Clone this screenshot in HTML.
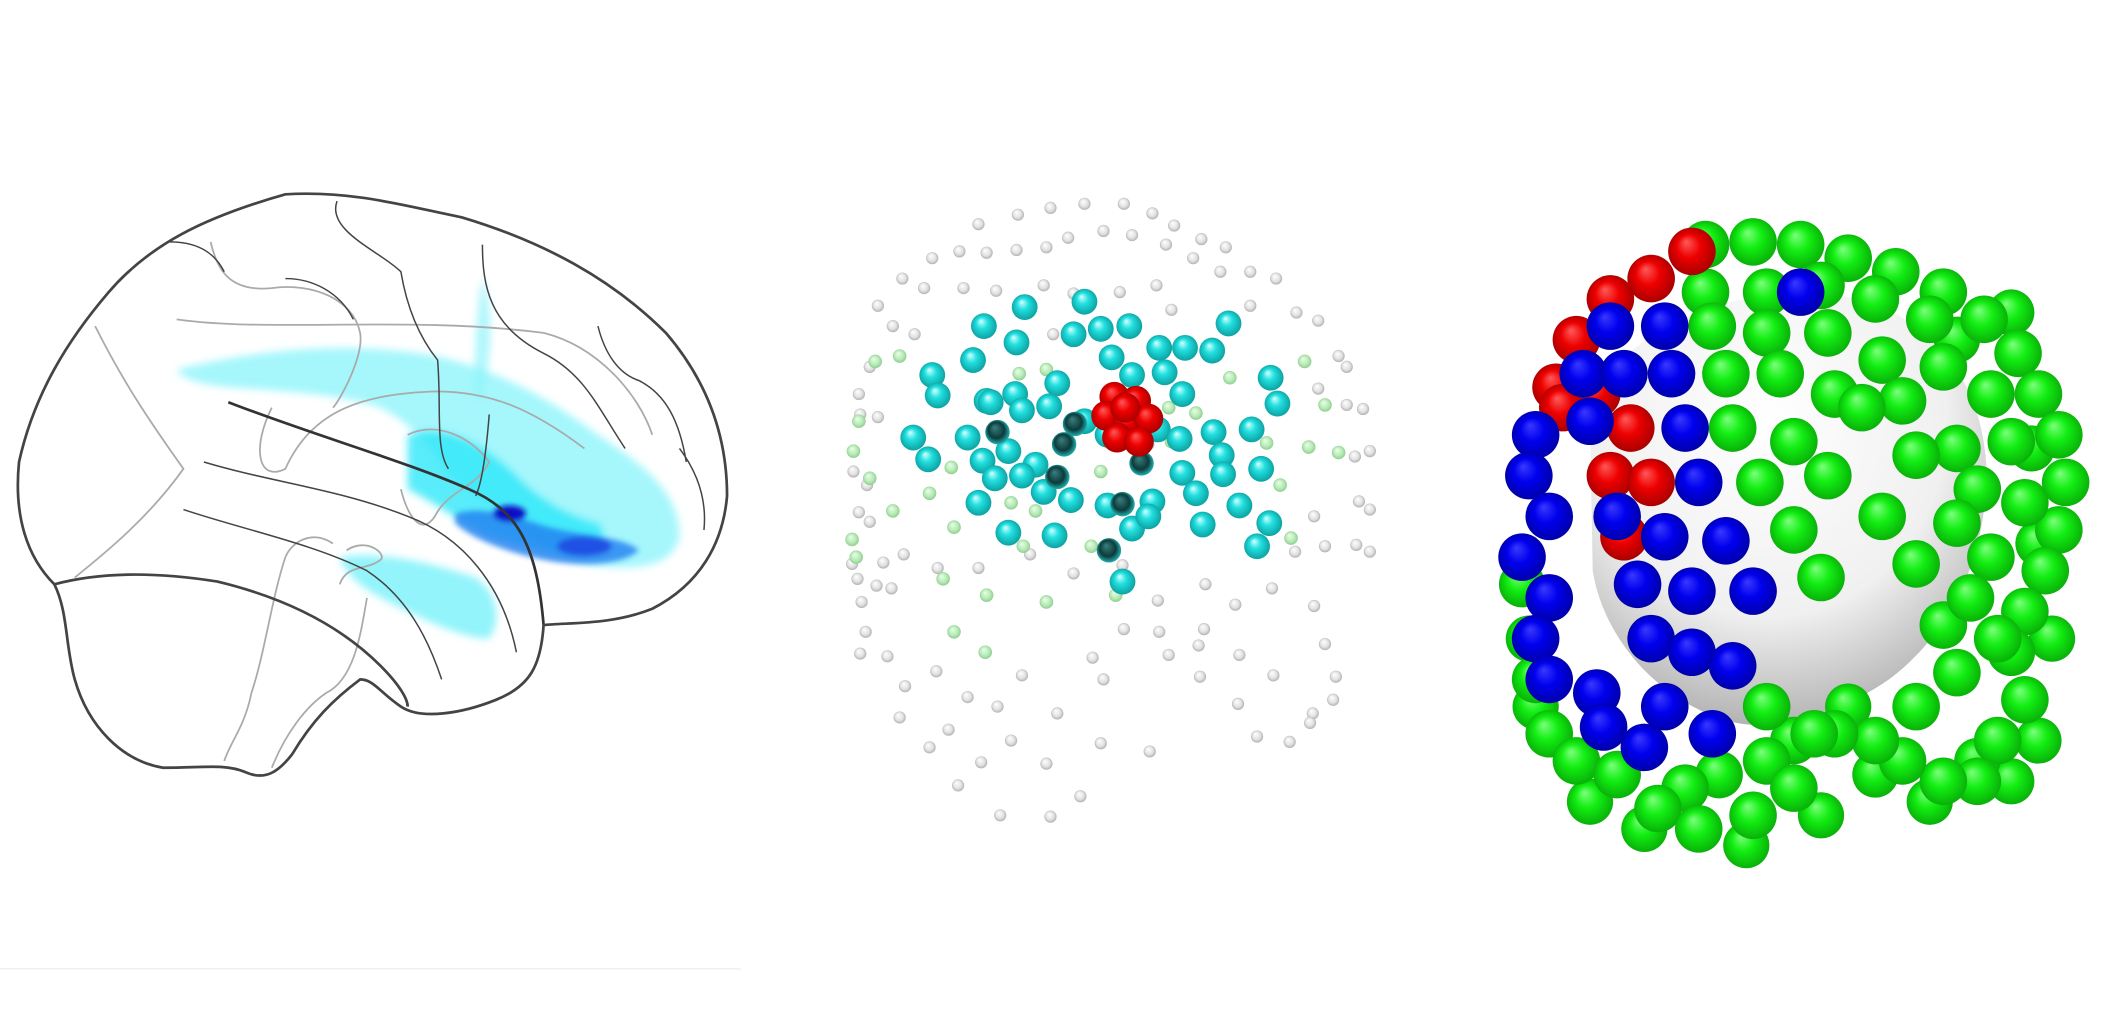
<!DOCTYPE html>
<html><head><meta charset="utf-8"><style>
html,body{margin:0;padding:0;background:#fff;width:2120px;height:1030px;overflow:hidden}
svg{display:block}
</style></head><body>
<svg id="fig" width="2120" height="1030" viewBox="0 0 1560 758" preserveAspectRatio="none" xmlns="http://www.w3.org/2000/svg">
<defs>
<radialGradient id="gGreen" cx="0.5" cy="0.5" r="0.55" fx="0.38" fy="0.3"><stop offset="0" stop-color="#7dff7d"/><stop offset="0.45" stop-color="#12ee12"/><stop offset="1" stop-color="#08a808"/></radialGradient>
<radialGradient id="gBlue" cx="0.5" cy="0.5" r="0.55" fx="0.38" fy="0.3"><stop offset="0" stop-color="#3a3aff"/><stop offset="0.45" stop-color="#0000ee"/><stop offset="1" stop-color="#0000a0"/></radialGradient>
<radialGradient id="gRed" cx="0.5" cy="0.5" r="0.55" fx="0.38" fy="0.3"><stop offset="0" stop-color="#ff5a5a"/><stop offset="0.45" stop-color="#ee0000"/><stop offset="1" stop-color="#a00000"/></radialGradient>
<radialGradient id="gCyan" cx="0.5" cy="0.5" r="0.55" fx="0.38" fy="0.3"><stop offset="0" stop-color="#d8ffff"/><stop offset="0.4" stop-color="#22e0e0"/><stop offset="1" stop-color="#0a9a9a"/></radialGradient>
<radialGradient id="gDark" cx="0.5" cy="0.5" r="0.55" fx="0.38" fy="0.3"><stop offset="0" stop-color="#3a8080"/><stop offset="0.6" stop-color="#0d3a3a"/><stop offset="1" stop-color="#28c8c8"/></radialGradient>
<radialGradient id="gGray" cx="0.5" cy="0.5" r="0.55" fx="0.38" fy="0.3"><stop offset="0" stop-color="#ffffff"/><stop offset="0.6" stop-color="#e2e2e2"/><stop offset="1" stop-color="#a8a8a8"/></radialGradient>
<radialGradient id="gLGreen" cx="0.5" cy="0.5" r="0.55" fx="0.38" fy="0.3"><stop offset="0" stop-color="#eaffea"/><stop offset="0.6" stop-color="#b8eab8"/><stop offset="1" stop-color="#88c888"/></radialGradient>
<radialGradient id="gHead" cx="0.45" cy="0.3" r="0.75"><stop offset="0" stop-color="#ffffff"/><stop offset="0.6" stop-color="#f0f0f0"/><stop offset="1" stop-color="#a8a8a8"/></radialGradient>
<filter id="blur2"><feGaussianBlur stdDeviation="3"/></filter>
<filter id="blur1"><feGaussianBlur stdDeviation="2"/></filter>
</defs>

<g id="brain">
 <g filter="url(#blur2)">
  <path d="M130,272 C170,262 230,252 290,258 C350,262 400,290 440,320 C470,340 500,360 500,395 C495,420 460,420 430,415 C410,410 390,395 380,385 C360,370 340,360 330,350 C320,330 300,310 280,300 C250,290 210,288 170,285 C150,283 135,280 130,272 Z" fill="#7ff4fb" opacity="0.7"/>
  <path d="M300,320 C330,310 360,330 380,350 C400,370 420,380 440,385 C450,395 440,410 420,410 C400,408 380,400 360,395 C340,385 320,370 300,360 Z" fill="#22e6f8" opacity="0.75"/>
  <path d="M250,410 C280,405 320,415 350,425 C365,435 370,455 360,470 C340,470 310,455 290,445 C270,435 255,425 250,410 Z" fill="#6ff0fa" opacity="0.75"/>
  <path d="M355,205 C365,230 360,270 355,295 L348,290 C350,260 350,230 355,205 Z" fill="#8ff4fb" opacity="0.7"/>
 </g>
 <g filter="url(#blur1)">
  <path d="M335,378 C355,372 380,380 400,387 C430,395 460,395 470,405 C460,415 430,418 400,412 C370,406 345,395 335,385 Z" fill="#1e7ef0" opacity="0.8"/>
  <ellipse cx="375" cy="378" rx="12" ry="6" fill="#1010c8"/>
  <ellipse cx="430" cy="402" rx="20" ry="7" fill="#2040e0" opacity="0.8"/>
 </g>
 <g fill="none" stroke="#aaa" stroke-width="1.3">
  <path d="M70,240 C90,280 110,310 135,345 C110,380 80,405 55,425"/>
  <path d="M155,178 C160,200 170,215 200,212 C230,208 260,220 265,245 C268,262 250,295 245,300"/>
  <path d="M200,300 C185,330 190,355 210,345 C230,300 270,290 320,288 C360,288 390,300 430,330"/>
  <path d="M130,235 C200,245 300,232 400,245 C440,255 470,290 480,320"/>
  <path d="M245,400 C230,390 215,398 210,410 C200,440 195,480 185,510 C180,535 170,545 165,560"/>
  <path d="M270,440 C265,470 260,500 240,510 C225,520 210,540 200,565"/>
  <path d="M255,405 C270,395 285,408 280,412 C270,420 255,415 250,430"/>
  <path d="M300,320 C320,310 345,320 360,340 C350,360 330,360 320,380 C310,395 300,380 295,360"/>
 </g>
 <g fill="none" stroke="#444" stroke-width="1.1">
  <path d="M125,178 C150,178 160,190 165,200"/>
  <path d="M248,148 C240,170 280,185 295,200 C300,230 310,250 322,265 C325,300 320,330 330,345"/>
  <path d="M355,180 C355,210 360,240 400,260 C430,275 440,300 460,330"/>
  <path d="M440,240 C445,260 455,275 470,280 C490,290 500,310 505,340"/>
  <path d="M360,305 C358,330 355,355 350,365"/>
  <path d="M150,340 C200,355 250,360 300,380 C340,395 370,430 380,480"/>
  <path d="M135,375 C180,390 230,400 270,420 C300,440 315,470 325,500"/>
  <path d="M500,330 C515,350 520,370 518,390"/>
  <path d="M210,205 C230,205 250,215 260,235"/>
 </g>
 <path d="M168,296 C230,320 300,340 345,360 C380,375 395,400 400,460" fill="none" stroke="#333" stroke-width="2"/>
 <path d="M40,430 C20,410 10,380 14,340 C25,290 50,250 80,215 C110,180 150,160 210,143 C260,140 300,152 340,160 C400,178 450,205 490,245 C520,280 535,320 535,365 C532,400 515,430 480,448 C450,460 420,458 400,460 C398,490 390,505 365,515 C340,525 310,530 295,520 C280,510 275,500 265,500 C245,515 230,530 215,555 C205,568 195,575 180,568 C165,562 150,565 120,565 C90,560 65,535 55,500 C48,475 50,450 40,430 Z" fill="none" stroke="#444" stroke-width="2"/>
 <path d="M40,430 C70,422 110,420 160,428 C210,440 250,460 280,490 C295,505 300,515 300,520" fill="none" stroke="#444" stroke-width="2"/>
 <line x1="0" y1="713" x2="545" y2="713" stroke="#eee" stroke-width="1"/>
</g>

<g id="mid"></g>
<g id="right">
 <path d="M1170,310 C1180,250 1260,215 1330,215 C1410,218 1460,270 1462,350 C1460,420 1430,470 1390,500 C1350,528 1300,540 1270,530 C1220,515 1180,470 1172,420 Z" fill="url(#gHead)"/>
</g>
<script>
const grayPts=[[720,165],[749,158],[773,153],[798,150],[827,150],[848,157],[864,166],[884,176],[902,182],[686,190],[706,185],[726,186],[748,184],[770,182],[786,175],[812,170],[833,173],[858,180],[878,190],[898,200],[920,200],[939,205],[664,205],[680,212],[709,212],[733,214],[768,210],[790,216],[824,215],[851,210],[920,225],[954,230],[646,225],[657,240],[673,246],[775,246],[862,228],[970,236],[985,262],[991,270],[970,286],[991,298],[1003,301],[1008,332],[997,336],[640,270],[632,290],[633,305],[646,307],[628,347],[638,357],[632,377],[640,384],[627,415],[650,414],[665,408],[631,426],[645,431],[634,443],[637,465],[633,481],[653,483],[656,433],[690,418],[720,418],[758,408],[790,422],[826,416],[852,442],[887,430],[909,445],[936,433],[953,406],[975,402],[998,401],[1008,406],[1000,369],[1008,375],[967,380],[967,446],[975,474],[983,498],[981,515],[966,525],[949,546],[964,532],[937,497],[912,482],[882,475],[860,482],[886,463],[911,518],[925,542],[883,498],[666,505],[689,494],[712,513],[698,537],[734,520],[752,497],[778,525],[804,484],[827,463],[853,465],[812,500],[846,553],[810,547],[770,562],[744,545],[722,561],[705,578],[684,550],[662,528],[736,600],[773,601],[795,586],[845,327]];
const lgreenPts=[[644,266],[662,262],[632,310],[628,332],[640,352],[700,344],[627,397],[657,376],[684,363],[702,388],[744,370],[762,376],[803,402],[753,402],[630,410],[694,426],[726,438],[770,443],[821,438],[702,465],[725,480],[905,278],[960,266],[975,298],[985,333],[963,329],[942,357],[950,396],[932,326],[880,304],[862,325],[750,275],[770,272],[810,347],[860,300]];
const cyanPts=[[724,240],[754,226],[748,252],[716,265],[686,276],[690,291],[726,295],[747,290],[778,282],[798,222],[790,246],[810,242],[831,240],[818,263],[853,256],[872,256],[892,258],[904,238],[833,276],[857,274],[870,290],[935,278],[940,297],[772,299],[752,302],[712,322],[672,322],[683,338],[723,339],[742,332],[762,342],[798,310],[815,320],[852,316],[868,323],[893,318],[921,316],[899,335],[928,345],[870,348],[900,349],[752,350],[732,352],[768,362],[720,370],[788,368],[815,372],[848,369],[880,363],[912,372],[934,385],[925,402],[885,386],[833,389],[845,380],[742,392],[776,394],[826,428],[729,296]];
const darkPts=[[734,318],[791,312],[783,327],[826,371],[778,351],[840,341],[833,305],[816,405]];
const redPts=[[820,292],[836,295],[814,306],[830,310],[845,308],[822,322],[838,325],[828,300]];
const NS='http://www.w3.org/2000/svg';
function sphere(g,x,y,r,fill,name){
  const c=document.createElementNS(NS,'circle');
  c.setAttribute('cx',x);c.setAttribute('cy',y);c.setAttribute('r',r);
  c.setAttribute('fill',fill);
  
  
  g.appendChild(c);
}
const mid=document.getElementById('mid');
grayPts.forEach(p=>sphere(mid,p[0],p[1],4.5,'url(#gGray)','gray-sensor'));
lgreenPts.forEach(p=>sphere(mid,p[0],p[1],5,'url(#gLGreen)','green-sensor'));
cyanPts.forEach(p=>sphere(mid,p[0],p[1],9.5,'url(#gCyan)','cyan-sensor'));
darkPts.forEach(p=>sphere(mid,p[0],p[1],9,'url(#gDark)','dark-sensor'));
redPts.forEach(p=>sphere(mid,p[0],p[1],11,'url(#gRed)','red-sensor'));

const greenBack=[[1500,400],[1510,470],[1500,545],[1480,575],[1455,560],[1420,590],[1380,570],[1360,520],[1480,230],[1440,250],[1130,520],[1125,470],[1170,590],[1210,610],[1285,622],[1340,600],[1120,430],[1495,330]];
const greenEl=[[1255,180],[1290,178],[1325,180],[1360,190],[1395,200],[1430,215],[1460,235],[1485,260],[1500,290],[1515,320],[1520,355],[1515,390],[1505,420],[1490,450],[1480,480],[1490,515],[1470,545],[1455,575],[1430,575],[1400,560],[1380,545],[1350,540],[1320,545],[1300,560],[1265,570],[1240,580],[1220,595],[1250,610],[1290,600],[1320,580],[1130,500],[1140,540],[1160,560],[1190,570],[1410,520],[1440,495],[1470,470],[1430,460],[1255,215],[1300,215],[1340,210],[1380,220],[1420,235],[1260,240],[1300,245],[1345,245],[1385,265],[1430,270],[1465,290],[1270,275],[1310,275],[1350,290],[1400,295],[1440,330],[1480,325],[1275,315],[1320,325],[1370,300],[1410,335],[1455,360],[1490,370],[1295,355],[1345,350],[1385,380],[1440,385],[1465,410],[1320,390],[1410,415],[1340,425],[1450,440],[1300,520],[1335,540]];
const blueEl=[[1185,240],[1225,240],[1165,275],[1195,275],[1230,275],[1130,320],[1170,310],[1240,315],[1250,355],[1125,350],[1140,380],[1190,380],[1225,395],[1270,398],[1120,410],[1140,440],[1205,430],[1245,435],[1290,435],[1130,470],[1215,470],[1245,480],[1275,490],[1140,500],[1175,510],[1225,520],[1260,540],[1210,550],[1180,535],[1325,215]];
const redEl=[[1245,185],[1215,205],[1185,220],[1160,250],[1145,285],[1175,290],[1150,300],[1200,315],[1185,350],[1215,355],[1195,395]];
const right=document.getElementById('right');
greenBack.forEach(p=>sphere(right,p[0],p[1],17,'url(#gGreen)','green-electrode-back'));
greenEl.forEach(p=>sphere(right,p[0],p[1],17.5,'url(#gGreen)','green-electrode'));
redEl.forEach(p=>sphere(right,p[0],p[1],17.5,'url(#gRed)','red-electrode'));
blueEl.forEach(p=>sphere(right,p[0],p[1],17.5,'url(#gBlue)','blue-electrode'));
</script>
</svg>
</body></html>
